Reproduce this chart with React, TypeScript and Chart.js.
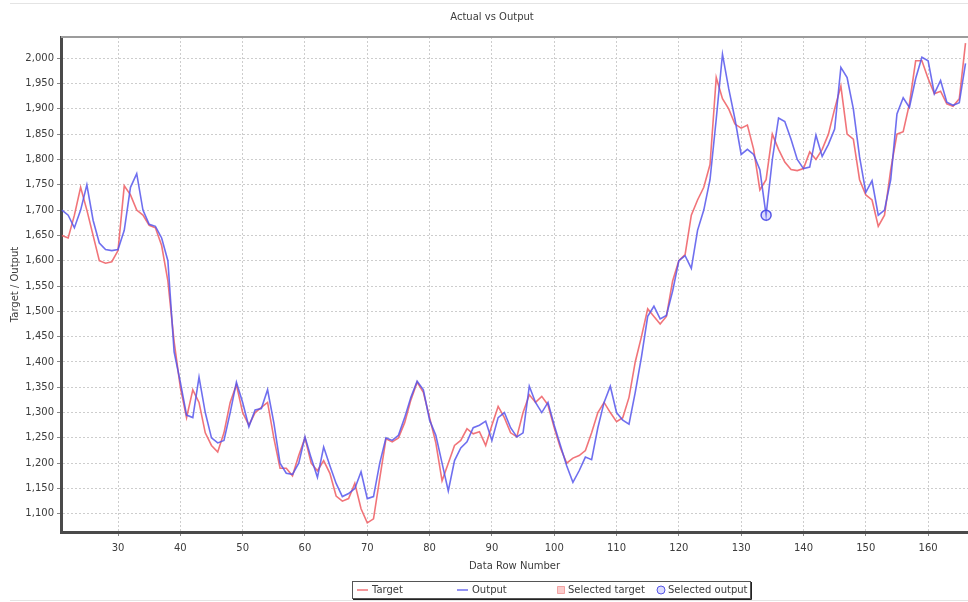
import React, { useEffect, useRef } from "react";
import { Chart, registerables } from "chart.js";

Chart.register(...registerables);

// Row number of the first value in each series
const FIRST_ROW = 21;

const targetValues = [
  1650, 1645, 1690, 1745, 1700, 1650, 1600, 1595, 1598, 1620, 1748, 1730, 1700, 1690, 1670, 1665,
  1630, 1560, 1440, 1350, 1290, 1345, 1320, 1260, 1235, 1222, 1260, 1320, 1355, 1300, 1275, 1300,
  1310, 1320, 1250, 1190, 1190, 1175, 1215, 1250, 1200, 1185, 1205, 1180, 1135, 1125, 1130, 1160,
  1110, 1082, 1090, 1170, 1248, 1242, 1250, 1280, 1325, 1360, 1340, 1290, 1240, 1165, 1200,
  1235, 1245, 1268, 1258, 1262, 1235, 1275, 1312, 1290, 1260, 1252, 1300, 1335, 1320, 1332, 1315,
  1270, 1230, 1200, 1210, 1215, 1225, 1260, 1300, 1320, 1300, 1282, 1290, 1330, 1400,
  1450, 1505, 1490, 1475, 1490, 1560, 1600, 1612, 1690, 1720, 1745, 1790, 1962, 1920, 1900, 1870,
  1862, 1868, 1820, 1740, 1760, 1850, 1820, 1795, 1780, 1778, 1782, 1815, 1800,
  1820, 1850, 1900, 1945, 1850, 1840, 1760, 1730, 1720, 1668, 1690, 1780, 1850, 1855, 1910, 1995,
  1995, 1960, 1930, 1935, 1910, 1905, 1920, 2030,
];

const outputValues = [
  1700, 1690, 1665, 1700, 1750, 1680, 1635, 1622, 1620, 1622, 1660, 1745, 1772, 1700, 1672, 1668,
  1645, 1600, 1420, 1360, 1295, 1290, 1370, 1300, 1250, 1240, 1245, 1300, 1360, 1320, 1272, 1305,
  1308, 1345, 1280, 1200, 1180, 1178, 1200, 1252, 1210, 1172, 1232, 1195, 1160, 1134, 1140, 1150,
  1183, 1130, 1134, 1200, 1250, 1245, 1255, 1290, 1330, 1362, 1345, 1285, 1255, 1200, 1145,
  1205, 1230, 1242, 1270, 1275, 1283, 1245, 1290, 1300, 1270, 1252, 1260, 1352, 1320, 1300, 1320,
  1275, 1235, 1195, 1162, 1185, 1212, 1207, 1270, 1320, 1352, 1300, 1285, 1277, 1340,
  1410, 1490, 1510, 1485, 1492, 1540, 1600, 1610, 1585, 1660, 1700, 1760, 1880, 2008, 1940, 1880,
  1810, 1820, 1810, 1780, 1690, 1800, 1882, 1875, 1840, 1800, 1782, 1785, 1848,
  1806, 1830, 1860, 1982, 1962, 1900, 1805, 1735, 1758, 1690, 1700, 1760, 1890, 1922, 1903, 1960,
  2002, 1995, 1930, 1956, 1913, 1907, 1912, 1990,
];

// Highlighted rows
const selectedTargetRows: number[] = [];
const selectedTargetValues: number[] = [];
const selectedOutputRows = [134];
const selectedOutputValues = [1690];

// Axis ranges and tick spacing
const X_MIN = 20.85;
const X_MAX = 166.4;
const X_STEP = 10;
const Y_MIN = 1064;
const Y_MAX = 2042;
const Y_STEP = 50;

const FONT = "'DejaVu Sans', Verdana, sans-serif";
const TEXT = "#3c3c3c";

const toPoints = (rows: number[], values: number[]) =>
  values.map((v, i) => ({ x: rows[i], y: v }));

const seriesRows = targetValues.map((_, i) => FIRST_ROW + i);

// Title, plot frame and boxed legend
const decorations = {
  id: "decorations",
  afterDraw(chart: any) {
    const { ctx, chartArea } = chart;
    ctx.save();

    // outer panel edges
    ctx.strokeStyle = "#e4e4e4";
    ctx.lineWidth = 1;
    ctx.beginPath();
    ctx.moveTo(10, 3.5);
    ctx.lineTo(chart.width, 3.5);
    ctx.moveTo(10, 600.5);
    ctx.lineTo(chart.width, 600.5);
    ctx.stroke();

    // top edge of the plot
    ctx.strokeStyle = "#9c9c9c";
    ctx.lineWidth = 2;
    ctx.beginPath();
    ctx.moveTo(chartArea.left, chartArea.top);
    ctx.lineTo(chartArea.right, chartArea.top);
    ctx.stroke();

    // title
    ctx.font = `10px ${FONT}`;
    ctx.fillStyle = TEXT;
    ctx.textAlign = "center";
    ctx.textBaseline = "middle";
    ctx.fillText("Actual vs Output", 492, 17);

    // legend
    const lx = 352;
    const ly = 581;
    const lw = 398;
    const lh = 17;
    ctx.fillStyle = "#ffffff";
    ctx.fillRect(lx, ly, lw, lh);
    ctx.strokeStyle = "#555555";
    ctx.lineWidth = 1;
    ctx.strokeRect(lx + 0.5, ly + 0.5, lw, lh);
    ctx.strokeStyle = "#222222";
    ctx.beginPath();
    ctx.moveTo(lx + 1, ly + lh + 1.5);
    ctx.lineTo(lx + lw + 1.5, ly + lh + 1.5);
    ctx.lineTo(lx + lw + 1.5, ly + 1);
    ctx.stroke();

    const cy = ly + lh / 2 + 0.5;
    chart.data.datasets.forEach((ds: any, i: number) => {
      const x0 = lx + 5 + i * 100;
      let textX;
      if (ds.showLine === false) {
        const mx = x0 + 4;
        ctx.fillStyle = ds.backgroundColor;
        ctx.strokeStyle = ds.borderColor;
        ctx.lineWidth = 1;
        ctx.beginPath();
        if (ds.pointStyle === "rect") {
          ctx.rect(mx - 3.5, cy - 3.5, 7, 7);
        } else {
          ctx.arc(mx, cy, 4, 0, Math.PI * 2);
        }
        ctx.fill();
        ctx.stroke();
        textX = x0 + 11;
      } else {
        ctx.strokeStyle = ds.borderColor;
        ctx.lineWidth = 1.5;
        ctx.beginPath();
        ctx.moveTo(x0, cy);
        ctx.lineTo(x0 + 11, cy);
        ctx.stroke();
        textX = x0 + 15;
      }
      ctx.fillStyle = TEXT;
      ctx.textAlign = "left";
      ctx.textBaseline = "middle";
      ctx.font = `10px ${FONT}`;
      ctx.fillText(ds.label, textX, cy);
    });

    ctx.restore();
  },
};

export default function App() {
  const canvasRef = useRef<HTMLCanvasElement | null>(null);

  useEffect(() => {
    const canvas = canvasRef.current;
    if (!canvas) return;

    const tickFont = { family: FONT, size: 10 };

    const chart = new Chart(canvas, {
      type: "line",
      data: {
        datasets: [
          {
            label: "Target",
            data: toPoints(seriesRows, targetValues),
            borderColor: "rgba(238, 92, 98, 0.85)",
            backgroundColor: "rgba(238, 92, 98, 0.85)",
            borderWidth: 1.6,
            pointRadius: 0,
            tension: 0,
            order: 2,
          },
          {
            label: "Output",
            data: toPoints(seriesRows, outputValues),
            borderColor: "rgba(86, 86, 236, 0.85)",
            backgroundColor: "rgba(86, 86, 236, 0.85)",
            borderWidth: 1.6,
            pointRadius: 0,
            tension: 0,
            order: 1,
          },
          {
            label: "Selected target",
            data: toPoints(selectedTargetRows, selectedTargetValues),
            showLine: false,
            pointStyle: "rect",
            pointRadius: 4,
            backgroundColor: "rgba(245, 140, 140, 0.45)",
            borderColor: "rgba(236, 120, 120, 0.6)",
            borderWidth: 1,
            order: 0,
          },
          {
            label: "Selected output",
            data: toPoints(selectedOutputRows, selectedOutputValues),
            showLine: false,
            pointStyle: "circle",
            pointRadius: 5,
            backgroundColor: "rgba(140, 140, 250, 0.3)",
            borderColor: "rgba(70, 70, 230, 0.9)",
            borderWidth: 1.5,
            order: 0,
          },
        ],
      },
      options: {
        responsive: false,
        animation: false,
        events: [],
        layout: { autoPadding: false, padding: { top: 37, left: 0, right: 0, bottom: 22 } },
        plugins: {
          legend: { display: false },
          title: { display: false },
          tooltip: { enabled: false },
        },
        scales: {
          x: {
            type: "linear",
            min: X_MIN,
            max: X_MAX,
            afterFit: (scale: any) => {
              scale.height = 48;
              scale.paddingLeft = 0;
              scale.paddingRight = 0;
            },
            ticks: {
              stepSize: X_STEP,
              includeBounds: false,
              autoSkip: false,
              maxRotation: 0,
              padding: 6,
              color: TEXT,
              font: tickFont,
              callback: (v: any) => String(v),
            },
            grid: {
              color: "#cdcdcd",
              lineWidth: 1,
              tickLength: 4,
              tickColor: "#888888",
            },
            border: { display: true, color: "#4a4a4a", width: 3, dash: [2, 2] },
            title: {
              display: true,
              text: "Data Row Number",
              color: TEXT,
              font: tickFont,
              padding: { top: 0, bottom: 8 },
            },
          },
          y: {
            type: "linear",
            min: Y_MIN,
            max: Y_MAX,
            afterFit: (scale: any) => {
              scale.width = 61;
              scale.paddingTop = 0;
              scale.paddingBottom = 0;
            },
            ticks: {
              stepSize: Y_STEP,
              includeBounds: false,
              padding: 3,
              color: TEXT,
              font: tickFont,
              callback: (v: any) => Number(v).toLocaleString("en-US"),
            },
            grid: {
              color: "#cdcdcd",
              lineWidth: 1,
              tickLength: 4,
              tickColor: "#888888",
            },
            border: { display: true, color: "#4a4a4a", width: 3, dash: [2, 2] },
            title: {
              display: true,
              text: "Target / Output",
              color: TEXT,
              font: tickFont,
              padding: { top: 9, bottom: 0 },
            },
          },
        },
      },
      plugins: [decorations],
    } as any);

    return () => chart.destroy();
  }, []);

  return (
    <div style={{ position: "absolute", left: 0, top: 0, width: 968, height: 602, background: "#ffffff" }}>
      <canvas ref={canvasRef} width={968} height={602} style={{ display: "block" }} />
    </div>
  );
}
